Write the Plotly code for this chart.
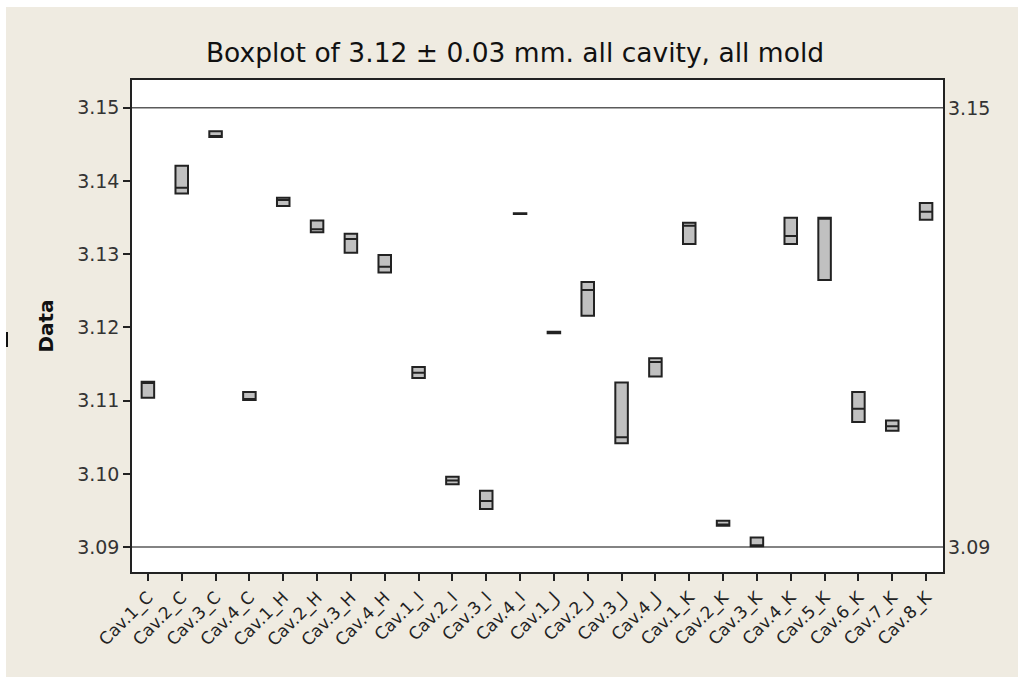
import plotly.graph_objects as go

categories = ["Cav.1_C", "Cav.2_C", "Cav.3_C", "Cav.4_C",
              "Cav.1_H", "Cav.2_H", "Cav.3_H", "Cav.4_H",
              "Cav.1_I", "Cav.2_I", "Cav.3_I", "Cav.4_I",
              "Cav.1_J", "Cav.2_J", "Cav.3_J", "Cav.4_J",
              "Cav.1_K", "Cav.2_K", "Cav.3_K", "Cav.4_K",
              "Cav.5_K", "Cav.6_K", "Cav.7_K", "Cav.8_K"]
q1 =     [3.1104, 3.1383, 3.1460, 3.1101, 3.1366, 3.1330, 3.1302, 3.1275,
          3.1131, 3.0986, 3.0952, 3.1355, 3.1192, 3.1216, 3.1042, 3.1133,
          3.1314, 3.0929, 3.0901, 3.1314, 3.1265, 3.1071, 3.1059, 3.1347]
median = [3.1124, 3.1391, 3.1461, 3.1102, 3.1374, 3.1334, 3.1321, 3.1283,
          3.1138, 3.0991, 3.0963, 3.1355, 3.1193, 3.1251, 3.1050, 3.1153,
          3.1339, 3.0931, 3.0902, 3.1325, 3.1349, 3.1089, 3.1065, 3.1358]
q3 =     [3.1126, 3.1421, 3.1468, 3.1112, 3.1377, 3.1346, 3.1328, 3.1299,
          3.1146, 3.0996, 3.0977, 3.1356, 3.1194, 3.1262, 3.1125, 3.1158,
          3.1343, 3.0936, 3.0913, 3.1350, 3.1350, 3.1112, 3.1073, 3.1370]
spec_limits = [3.15, 3.09]
y_ticks = [3.09, 3.10, 3.11, 3.12, 3.13, 3.14, 3.15]

W, H = 1018, 677
L, R, T, B = 132, 75, 80, 105
pw, ph = W - L - R, H - T - B
BG = "#EFEBE1"
FONT = "DejaVu Sans"

fig = go.Figure()
fig.add_trace(go.Box(
    x=categories, q1=q1, median=median, q3=q3,
    lowerfence=q1, upperfence=q3,
    fillcolor="#C0C0C0", line=dict(color="#222222", width=2),
    width=0.37, boxpoints=False, showlegend=False, hoverinfo="skip",
))

for v in spec_limits:
    fig.add_shape(type="line", xref="paper", yref="y", x0=0, x1=1, y0=v, y1=v,
                  line=dict(color="#5A5A5A", width=1.5), layer="below")
    fig.add_annotation(xref="paper", yref="y", x=1, y=v, xshift=3,
                       text=f"{v:.2f}", showarrow=False, xanchor="left",
                       font=dict(family=FONT, size=19, color="#333333"))

# white border strips of the original image
fig.add_shape(type="rect", xref="paper", yref="paper",
              x0=-L / pw, x1=(-L + 6) / pw, y0=-B / ph, y1=1 + T / ph,
              fillcolor="white", line=dict(width=0))
fig.add_shape(type="rect", xref="paper", yref="paper",
              x0=-L / pw, x1=1 + R / pw, y0=1 + (T - 7) / ph, y1=1 + T / ph,
              fillcolor="white", line=dict(width=0))
# small mark at left edge
fig.add_shape(type="rect", xref="paper", yref="paper",
              x0=(-L + 6) / pw, x1=(-L + 8) / pw,
              y0=1 - (347 - T) / ph, y1=1 - (332 - T) / ph,
              fillcolor="#111111", line=dict(width=0))

fig.update_layout(
    width=W, height=H,
    margin=dict(l=L, r=R, t=T, b=B),
    paper_bgcolor=BG, plot_bgcolor="white",
    title=dict(text="Boxplot of 3.12 ± 0.03 mm. all cavity, all mold",
               x=515 / W, xanchor="center", y=1 - 53 / H, yanchor="middle",
               font=dict(family=FONT, size=26.5, color="#111111")),
    font=dict(family=FONT, color="#333333"),
    xaxis=dict(type="category", categoryorder="array", categoryarray=categories,
               range=[-0.47, 23.5], showgrid=False, zeroline=False,
               showline=True, linecolor="#222222", linewidth=1.5, mirror=True,
               ticks="outside", ticklen=7, tickcolor="#222222", tickwidth=1.5,
               tickangle=-45, tickfont=dict(family=FONT, size=17, color="#222222")),
    yaxis=dict(range=[3.0866, 3.1538], tickvals=y_ticks,
               ticktext=[f"{v:.2f}" for v in y_ticks],
               showgrid=False, zeroline=False,
               showline=True, linecolor="#222222", linewidth=1.5, mirror=True,
               ticks="outside", ticklen=7, tickcolor="#222222", tickwidth=1.5,
               tickfont=dict(family=FONT, size=19, color="#333333"),
               title=dict(text="<b>Data</b>", standoff=18,
                          font=dict(family=FONT, size=20, color="#111111"))),
)

fig.write_html("out.html")
